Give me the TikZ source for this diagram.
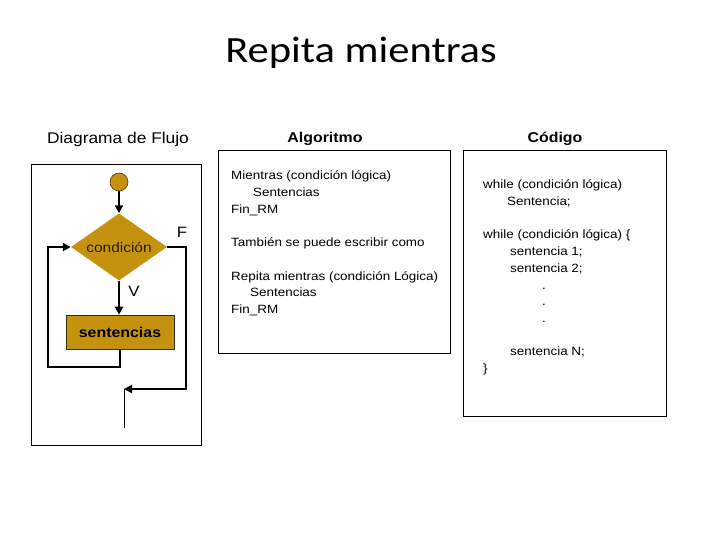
\documentclass[tikz,border=0pt]{standalone}
\usepackage{fontspec}
\setmainfont{Liberation Sans}
\newfontfamily\af{Liberation Sans}[FakeStretch=1.12]
\newfontfamily\tf{Carlito}[FakeStretch=1.15]
\usetikzlibrary{arrows.meta,shapes.geometric}
\definecolor{gold}{RGB}{196,146,14}
\begin{document}
\begin{tikzpicture}[x=1pt,y=-1pt,
  frame/.style={draw=black,line width=1pt},
  flow/.style={line width=2.4pt,-{Triangle[length=8pt,width=8pt]}},
  txt/.style={anchor=base west,inner sep=0pt,font=\af\fontsize{12}{14}\selectfont},
  hdr/.style={anchor=base,inner sep=0pt}]
\useasboundingbox (0,0) rectangle (720,540);
\fill[white] (0,0) rectangle (720,540);
% title and headers
\node[hdr,font=\tf\fontsize{37}{42}\selectfont] (title) at (361,63) {Repita mientras};
\node[hdr,font=\af\fontsize{15.5}{18}\selectfont] (h1) at (118,144) {Diagrama de Flujo};
\node[hdr,font=\af\bfseries\fontsize{14.2}{17}\selectfont] (h2) at (325,142.5) {Algoritmo};
\node[hdr,font=\af\bfseries\fontsize{14.2}{17}\selectfont] (h3) at (555,142.5) {Código};
% frames
\draw[frame] (31,165) rectangle (201,445);
\draw[frame] (218,151) rectangle (450,353);
\draw[frame] (463,151) rectangle (666,416);
% flowchart
\node[circle,fill=gold,draw=black!60!gold,line width=0.6pt,minimum size=18pt,inner sep=0pt] (start) at (119,182) {};
\node[diamond,fill=gold,minimum width=96pt,minimum height=67pt,aspect=1.43,inner sep=0pt,
      font=\af\fontsize{13.8}{16}\selectfont,text=black!80!gold] (cond) at (119,247) {condición};
\node[rectangle,fill=gold,draw=black!70!gold,line width=0.6pt,minimum width=108pt,minimum height=34pt,inner sep=0pt,
      font=\af\bfseries\fontsize{14.2}{16}\selectfont] (sent) at (120,332) {sentencias};
\node[font=\af\fontsize{15}{17}\selectfont,inner sep=0pt] (lf) at (182,232) {F};
\node[font=\af\fontsize{15}{17}\selectfont,inner sep=0pt] (lv) at (134,291) {V};
\coordinate (l1) at (120,367);
\coordinate (l2) at (48,367);
\coordinate (l3) at (48,247);
\coordinate (r1) at (186,247);
\coordinate (r2) at (186,389);
\coordinate (e1) at (124,389);
\coordinate (e2) at (124,428);
\draw[flow] (start.south) -- (cond.north);
\draw[flow] (cond.south) -- (cond.south |- sent.north);
\draw[flow] (sent.south) -- (l1) -- (l2) -- (l3) -- (cond.west);
\draw[flow] (cond.east) -- (r1) -- (r2) -- (e1);
\draw[line width=1pt] (e1) -- (e2);
% algoritmo text
\node[txt] (a1) at (231,180) {Mientras (condición lógica)};
\node[txt] (a2) at (253,196.7) {Sentencias};
\node[txt] (a3) at (231,213.3) {Fin\_RM};
\node[txt] (a4) at (231,246.7) {También se puede escribir como};
\node[txt] (a5) at (231,280) {Repita mientras (condición Lógica)};
\node[txt] (a6) at (250,296.7) {Sentencias};
\node[txt] (a7) at (231,313.3) {Fin\_RM};
% code text
\node[txt] (c1) at (483,189) {while (condición lógica)};
\node[txt] (c2) at (507,205.7) {Sentencia;};
\node[txt] (c3) at (483,239) {while (condición lógica) \{};
\node[txt] (c4) at (510,255.7) {sentencia 1;};
\node[txt] (c5) at (510,272.3) {sentencia 2;};
\node[txt] (c6) at (542,289) {.};
\node[txt] (c7) at (542,305.7) {.};
\node[txt] (c8) at (542,322.3) {.};
\node[txt] (c9) at (510,355.7) {sentencia N;};
\node[txt] (c10) at (483,372.3) {\}};
\end{tikzpicture}
\end{document}
